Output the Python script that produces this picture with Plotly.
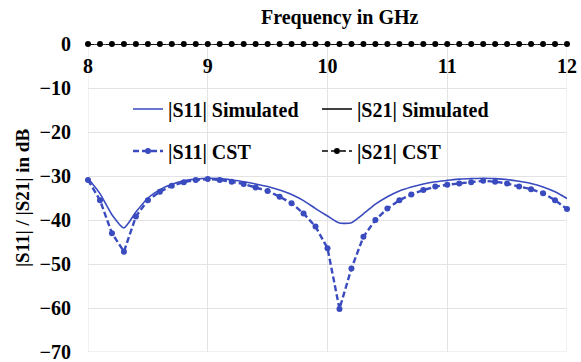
import plotly.graph_objects as go

# Frequency sweep (GHz), 0.1 GHz steps
freq = [round(8 + 0.1 * i, 1) for i in range(41)]

# |S11| from the simulation (dB)
s11_sim = [-30.5, -34.0, -38.8, -41.8, -38.2, -35.0, -33.1, -31.9, -31.1, -30.7,
           -30.5, -30.6, -30.9, -31.3, -31.8, -32.4, -33.2, -34.2, -35.6, -37.4,
           -39.1, -40.7, -40.6, -38.6, -36.4, -34.7, -33.4, -32.5, -31.8, -31.3,
           -31.0, -30.7, -30.6, -30.5, -30.6, -30.8, -31.2, -31.7, -32.5, -33.6,
           -35.1]

# |S11| from CST (dB)
s11_cst = [-30.9, -35.5, -43.0, -47.2, -39.2, -35.5, -33.6, -32.2, -31.4, -30.9,
           -30.7, -30.9, -31.3, -31.8, -32.6, -33.4, -34.7, -36.2, -38.5, -41.5,
           -46.4, -60.2, -51.0, -43.8, -40.0, -37.4, -35.5, -34.2, -33.2, -32.4,
           -32.0, -31.7, -31.4, -31.1, -31.3, -31.7, -32.4, -33.0, -33.9, -35.5,
           -37.5]

# |S21| (dB), simulated and CST
s21_sim = [0.0] * 41
s21_cst = [0.0] * 41

x_ticks = [8, 9, 10, 11, 12]
y_ticks = [0, -10, -20, -30, -40, -50, -60, -70]

BLUE = "#3A4BBF"
GRID = "#e3e3e3"
FONT = "Liberation Serif"


def bold_font(size):
    return dict(family=FONT, size=size, color="black", weight="bold")


fig = go.Figure()

fig.add_trace(go.Scatter(
    x=freq, y=s11_sim, name="|S11| Simulated", mode="lines",
    line=dict(color=BLUE, width=1.6, shape="spline", smoothing=0.6),
    legend="legend", cliponaxis=False))
fig.add_trace(go.Scatter(
    x=freq, y=s21_sim, name="|S21| Simulated", mode="lines",
    line=dict(color="black", width=1.6),
    legend="legend2", cliponaxis=False))
fig.add_trace(go.Scatter(
    x=freq, y=s11_cst, name="|S11| CST", mode="lines+markers",
    line=dict(color=BLUE, width=2.4, dash="6px,3px"),
    marker=dict(color=BLUE, size=6),
    legend="legend3", cliponaxis=False))
fig.add_trace(go.Scatter(
    x=freq, y=s21_cst, name="|S21| CST", mode="lines+markers",
    line=dict(color="black", width=1.6, dash="6px,3px"),
    marker=dict(color="black", size=6),
    legend="legend4", cliponaxis=False))

leg_common = dict(font=bold_font(20), bgcolor="rgba(0,0,0,0)",
                  xanchor="left", yanchor="middle", itemwidth=30)

fig.update_layout(
    width=581, height=362,
    margin=dict(l=88, r=14, t=44, b=10),
    paper_bgcolor="white", plot_bgcolor="white",
    font=dict(family=FONT, color="black"),
    showlegend=True,
    legend=dict(x=0.0835, y=0.789, **leg_common),
    legend2=dict(x=0.478, y=0.789, **leg_common),
    legend3=dict(x=0.0835, y=0.6526, **leg_common),
    legend4=dict(x=0.478, y=0.6526, **leg_common),
    xaxis=dict(
        range=[8, 12], side="top", tickvals=x_ticks,
        ticklabelposition="inside", ticklabeloverflow="allow",
        ticklabelstandoff=12, automargin=False,
        tickfont=bold_font(20),
        showgrid=True, gridcolor=GRID, gridwidth=1,
        zeroline=False, showline=False, ticks=""),
    yaxis=dict(
        range=[-70, 0], tickvals=y_ticks,
        ticklabelstandoff=16, ticklabeloverflow="allow", automargin=False,
        tickfont=bold_font(20),
        showgrid=True, gridcolor=GRID, gridwidth=1,
        zeroline=False, showline=False, ticks="",
        title=dict(text="|S11| / |S21| in dB", standoff=4, font=bold_font(19))),
    annotations=[dict(
        text="Frequency in GHz", xref="paper", yref="paper",
        x=0.527, y=1.0, yshift=27, xanchor="center", yanchor="middle",
        showarrow=False, font=bold_font(20))],
)

# gridlines along the plot edges (8 GHz, 12 GHz and -70 dB)
fig.add_vline(x=8, line=dict(color=GRID, width=1), layer="below")
fig.add_vline(x=12, line=dict(color=GRID, width=1), layer="below")
fig.add_hline(y=-70, line=dict(color=GRID, width=1), layer="below")

fig.write_html("out.html")
